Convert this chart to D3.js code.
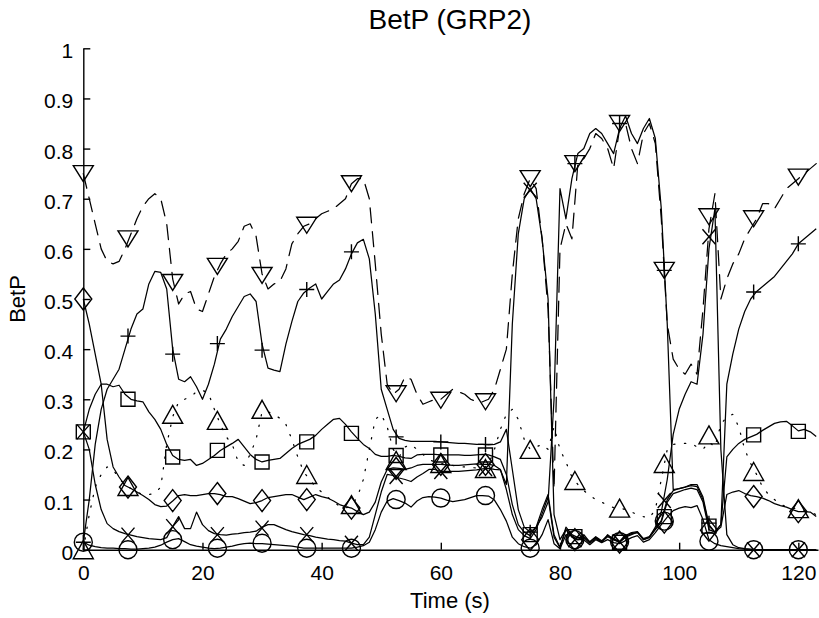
<!DOCTYPE html>
<html>
<head>
<meta charset="utf-8">
<script src="https://cdn.jsdelivr.net/npm/d3@7"></script>
<style>
  html, body { margin: 0; padding: 0; background: #fff; }
  svg { display: block; font-family: "Liberation Sans", Arial, Helvetica, sans-serif; }
</style>
</head>
<body>
<svg id="chart" width="819" height="618"></svg>
<script>
// Sample times (s) of the belief traces, and the times where markers are placed
const sampleTime = d3.range(0, 124);
const markerTime = [0, 7.5, 15, 22.5, 30, 37.5, 45, 52.5, 60, 67.5, 75, 82.5, 90, 97.5, 105, 112.5, 120];

const xTicks = [0, 20, 40, 60, 80, 100, 120];
const yTicks = [0, 0.1, 0.2, 0.3, 0.4, 0.5, 0.6, 0.7, 0.8, 0.9, 1];
const yTickLabels = ["0", "0.1", "0.2", "0.3", "0.4", "0.5", "0.6", "0.7", "0.8", "0.9", "1"];

// BetP trace, "v" markers (dashed)
const downLine = [
  0.75,0.70,0.65,0.60,0.575,0.57,0.575,0.60,0.63,0.66,
  0.685,0.70,0.71,0.70,0.65,0.54,0.49,0.51,0.515,0.48,
  0.475,0.51,0.545,0.57,0.59,0.60,0.615,0.645,0.65,0.625,
  0.55,0.52,0.53,0.535,0.56,0.61,0.63,0.645,0.65,0.66,
  0.67,0.675,0.68,0.69,0.70,0.73,0.74,0.74,0.70,0.57,
  0.43,0.33,0.31,0.32,0.345,0.34,0.31,0.29,0.295,0.30,
  0.30,0.31,0.32,0.315,0.31,0.30,0.295,0.295,0.30,0.32,
  0.36,0.40,0.55,0.66,0.71,0.74,0.72,0.62,0.48,0.12,
  0.60,0.65,0.62,0.77,0.78,0.80,0.83,0.82,0.80,0.76,
  0.84,0.85,0.80,0.77,0.83,0.85,0.81,0.66,0.45,0.38,
  0.36,0.35,0.37,0.35,0.48,0.64,0.71,0.50,0.54,0.57,
  0.59,0.62,0.64,0.66,0.69,0.69,0.68,0.70,0.72,0.73,
  0.74,0.75,0.76,0.77];
const downMarks = [0.75,0.62,0.533,0.565,0.547,0.647,0.73,0.311,0.298,0.295,0.74,0.77,0.85,0.557,0.664,0.66,0.743];

// BetP trace, "+" markers
const plusLine = [
  0.015,0.10,0.21,0.28,0.32,0.34,0.36,0.40,0.44,0.47,
  0.48,0.53,0.555,0.553,0.52,0.40,0.34,0.335,0.345,0.325,
  0.30,0.33,0.37,0.42,0.44,0.465,0.485,0.505,0.51,0.495,
  0.41,0.362,0.358,0.355,0.41,0.455,0.495,0.512,0.522,0.53,
  0.50,0.515,0.53,0.538,0.56,0.59,0.612,0.619,0.58,0.47,
  0.32,0.28,0.24,0.222,0.218,0.216,0.216,0.216,0.216,0.216,
  0.215,0.214,0.213,0.212,0.212,0.211,0.21,0.21,0.209,0.21,
  0.215,0.24,0.16,0.08,0.045,0.035,0.045,0.065,0.095,0.30,
  0.72,0.66,0.74,0.79,0.80,0.83,0.84,0.83,0.81,0.79,
  0.84,0.865,0.83,0.81,0.84,0.86,0.82,0.68,0.45,0.12,
  0.122,0.125,0.13,0.13,0.105,0.05,0.035,0.05,0.33,0.39,
  0.44,0.475,0.50,0.515,0.525,0.535,0.545,0.56,0.575,0.59,
  0.61,0.62,0.63,0.64];
const plusMarks = [0.015,0.426,0.39,0.411,0.398,0.519,0.594,0.225,0.215,0.21,0.035,0.77,0.85,0.557,0.053,0.514,0.61];

// BetP trace, "x" markers
const crossLine = [
  0.235,0.20,0.13,0.08,0.052,0.042,0.036,0.032,0.029,0.026,
  0.024,0.022,0.021,0.02,0.024,0.046,0.066,0.042,0.042,0.075,
  0.05,0.038,0.032,0.03,0.029,0.031,0.032,0.034,0.035,0.037,
  0.045,0.05,0.05,0.045,0.04,0.036,0.033,0.03,0.028,0.025,
  0.023,0.021,0.02,0.018,0.017,0.013,0.01,0.01,0.025,0.07,
  0.115,0.15,0.148,0.143,0.14,0.136,0.145,0.152,0.16,0.16,
  0.156,0.156,0.156,0.156,0.157,0.158,0.159,0.161,0.162,0.16,
  0.159,0.13,0.45,0.63,0.70,0.72,0.70,0.62,0.50,0.07,
  0.02,0.04,0.025,0.02,0.03,0.015,0.025,0.015,0.03,0.02,
  0.015,0.025,0.03,0.035,0.02,0.025,0.045,0.075,0.14,0.23,
  0.28,0.31,0.335,0.33,0.43,0.60,0.68,0.20,0.03,0.01,
  0.004,0.002,0.001,0,0,0,0,0,0,0,
  0,0,0,0];
const crossMarks = [0.235,0.029,0.046,0.03,0.043,0.03,0.013,0.146,0.156,0.162,0.717,0.02,0.016,0.098,0.624,0,0];

// BetP trace, "o" markers
const circleLine = [
  0.015,0.009,0.006,0.004,0.003,0.003,0.002,0.002,0.001,0.001,
  0.002,0.003,0.005,0.009,0.015,0.02,0.022,0.016,0.01,0.007,
  0.005,0.003,0.002,0.003,0.005,0.007,0.01,0.012,0.013,0.012,
  0.012,0.011,0.01,0.009,0.008,0.007,0.005,0.003,0.003,0.003,
  0.003,0.003,0.003,0.003,0.003,0.003,0.005,0.008,0.015,0.04,
  0.075,0.097,0.102,0.098,0.093,0.085,0.097,0.104,0.106,0.105,
  0.103,0.099,0.096,0.098,0.1,0.104,0.108,0.108,0.107,0.099,
  0.08,0.057,0.025,0.012,0.006,0.003,0.01,0.03,0.06,0.012,
  0.002,0.03,0.028,0.02,0.02,0.01,0.02,0.014,0.02,0.014,
  0.012,0.018,0.024,0.028,0.015,0.02,0.034,0.05,0.065,0.078,
  0.083,0.086,0.084,0.088,0.06,0.02,0.012,0.008,0.006,0.004,
  0.002,0.001,0,0,0,0,0,0,0,0,
  0,0,0,0];
const circleMarks = [0.015,0,0.02,0.003,0.013,0.003,0.003,0.1,0.103,0.108,0.003,0.02,0.016,0.057,0.017,0,0];

// BetP trace, square markers
const squareLine = [
  0.235,0.28,0.31,0.33,0.33,0.325,0.328,0.31,0.30,0.297,
  0.295,0.275,0.26,0.24,0.21,0.188,0.18,0.178,0.18,0.168,
  0.172,0.18,0.188,0.198,0.205,0.212,0.22,0.205,0.19,0.18,
  0.175,0.178,0.18,0.182,0.192,0.202,0.21,0.215,0.22,0.228,
  0.24,0.25,0.26,0.262,0.25,0.235,0.222,0.21,0.202,0.19,
  0.186,0.186,0.188,0.186,0.183,0.182,0.189,0.19,0.19,0.19,
  0.189,0.189,0.189,0.189,0.188,0.188,0.189,0.19,0.189,0.185,
  0.18,0.15,0.09,0.05,0.035,0.028,0.045,0.08,0.11,0.03,
  0.005,0.045,0.03,0.024,0.026,0.016,0.026,0.018,0.028,0.022,
  0.016,0.028,0.034,0.036,0.022,0.026,0.042,0.058,0.10,0.118,
  0.122,0.125,0.128,0.126,0.10,0.047,0.035,0.05,0.185,0.20,
  0.212,0.22,0.225,0.23,0.238,0.245,0.252,0.255,0.256,0.247,
  0.237,0.24,0.235,0.226];
const squareMarks = [0.235,0.30,0.185,0.198,0.175,0.215,0.232,0.188,0.189,0.189,0.03,0.026,0.015,0.066,0.047,0.229,0.236];

// BetP trace, diamond markers
const diamondLine = [
  0.50,0.45,0.39,0.33,0.22,0.165,0.145,0.128,0.122,0.115,
  0.108,0.10,0.09,0.086,0.087,0.097,0.108,0.11,0.108,0.108,
  0.11,0.112,0.112,0.11,0.106,0.106,0.102,0.097,0.092,0.094,
  0.098,0.104,0.106,0.108,0.11,0.11,0.105,0.10,0.105,0.11,
  0.106,0.103,0.097,0.09,0.086,0.083,0.076,0.07,0.075,0.095,
  0.135,0.16,0.163,0.162,0.16,0.163,0.168,0.17,0.17,0.17,
  0.17,0.169,0.168,0.168,0.169,0.17,0.171,0.17,0.17,0.168,
  0.16,0.12,0.07,0.04,0.028,0.022,0.04,0.072,0.105,0.025,
  0.004,0.04,0.026,0.02,0.024,0.013,0.022,0.016,0.026,0.02,
  0.015,0.026,0.032,0.034,0.02,0.024,0.04,0.055,0.095,0.112,
  0.116,0.12,0.123,0.12,0.095,0.04,0.035,0.045,0.11,0.115,
  0.118,0.112,0.108,0.106,0.103,0.098,0.092,0.088,0.085,0.08,
  0.076,0.076,0.075,0.066];
const diamondMarks = [0.5,0.125,0.098,0.112,0.098,0.1,0.083,0.162,0.17,0.17,0.02,0.02,0.015,0.055,0.039,0.106,0.076];

// BetP trace, "^" markers (dotted)
const upLine = [
  0.0,0.07,0.125,0.15,0.165,0.16,0.142,0.13,0.122,0.115,
  0.11,0.11,0.112,0.125,0.21,0.265,0.295,0.30,0.305,0.315,
  0.318,0.312,0.28,0.25,0.225,0.21,0.175,0.168,0.19,0.22,
  0.275,0.275,0.27,0.262,0.25,0.22,0.185,0.155,0.14,0.125,
  0.115,0.105,0.095,0.087,0.083,0.088,0.105,0.14,0.20,0.26,
  0.27,0.245,0.20,0.185,0.205,0.21,0.20,0.19,0.18,0.175,
  0.172,0.17,0.168,0.166,0.165,0.164,0.163,0.162,0.17,0.20,
  0.24,0.27,0.28,0.26,0.22,0.20,0.205,0.21,0.20,0.245,
  0.20,0.175,0.145,0.13,0.118,0.108,0.10,0.095,0.088,0.084,
  0.083,0.08,0.075,0.07,0.066,0.063,0.08,0.14,0.20,0.21,
  0.212,0.212,0.212,0.205,0.20,0.215,0.205,0.25,0.265,0.27,
  0.245,0.20,0.172,0.15,0.125,0.11,0.10,0.09,0.086,0.083,
  0.082,0.078,0.075,0.07];
const upMarks = [0.0,0.126,0.27,0.258,0.28,0.15,0.09,0.178,0.172,0.162,0.2,0.138,0.083,0.172,0.229,0.156,0.082];

// Marker glyphs (unfilled, MATLAB-like)
const glyphs = {
  plus:    "M-7.5,0H7.5M0,-7.5V7.5",
  cross:   "M-6.5,-7.5L6.5,7.5M6.5,-7.5L-6.5,7.5",
  circle:  "M9,0A9,9 0 1,1 -9,0A9,9 0 1,1 9,0Z",
  square:  "M-7,-7H7V7H-7Z",
  diamond: "M0,-11L8.5,0L0,11L-8.5,0Z",
  up:      "M0,-9L10,9L-10,9Z",
  down:    "M-10,-8L10,-8L0,8Z"
};

const series = [
  { values: downLine,    marks: downMarks,    glyph: "down",    dash: "15,9" },
  { values: plusLine,    marks: plusMarks,    glyph: "plus",    dash: null },
  { values: crossLine,   marks: crossMarks,   glyph: "cross",   dash: null },
  { values: circleLine,  marks: circleMarks,  glyph: "circle",  dash: null },
  { values: squareLine,  marks: squareMarks,  glyph: "square",  dash: null },
  { values: diamondLine, marks: diamondMarks, glyph: "diamond", dash: null },
  { values: upLine,      marks: upMarks,      glyph: "up",      dash: "1.3,9.5" }
];

const svg = d3.select("#chart");
const x = d3.scaleLinear().domain([0, 123.3]).range([83.3, 818]);
const y = d3.scaleLinear().domain([0, 1]).range([549.7, 48.3]);

// Traces
const line = d3.line().x((d, i) => x(sampleTime[i])).y(d => y(d));
const plot = svg.append("g");
series.forEach(s => {
  plot.append("path")
    .datum(s.values)
    .attr("d", line)
    .attr("fill", "none")
    .attr("stroke", "#000")
    .attr("stroke-width", 1.25)
    .attr("stroke-linejoin", "round")
    .attr("stroke-linecap", s.dash ? "round" : "butt")
    .attr("stroke-dasharray", s.dash);
});

// Markers every 7.5 s
series.forEach(s => {
  plot.append("g").selectAll("path")
    .data(s.marks)
    .join("path")
    .attr("transform", (d, i) => `translate(${x(markerTime[i])},${y(d)})`)
    .attr("d", glyphs[s.glyph])
    .attr("fill", "none")
    .attr("stroke", "#000")
    .attr("stroke-width", 1.4);
});

// Axes with inward ticks
const xAxis = svg.append("g")
  .attr("transform", `translate(0,${y(0)})`)
  .call(d3.axisBottom(x).tickValues(xTicks).tickFormat(d3.format("d"))
    .tickSizeInner(-7).tickSizeOuter(0).tickPadding(15));
const yAxis = svg.append("g")
  .attr("transform", `translate(${x(0)},0)`)
  .call(d3.axisLeft(y).tickValues(yTicks).tickFormat((d, i) => yTickLabels[i])
    .tickSizeInner(-7).tickSizeOuter(0).tickPadding(10));

[xAxis, yAxis].forEach(g => {
  g.selectAll("path, line").attr("stroke", "#000").attr("stroke-width", 1.4);
  g.selectAll("text").attr("font-size", 21).attr("fill", "#000")
    .attr("font-family", "'Liberation Sans', Arial, sans-serif");
});
yAxis.selectAll("text").attr("dy", "0.45em");

// Titles
svg.append("text")
  .attr("x", 450).attr("y", 29)
  .attr("text-anchor", "middle")
  .attr("font-size", 28)
  .text("BetP (GRP2)");

svg.append("text")
  .attr("x", 450).attr("y", 608)
  .attr("text-anchor", "middle")
  .attr("font-size", 22)
  .text("Time (s)");

svg.append("text")
  .attr("transform", "translate(25,299) rotate(-90)")
  .attr("text-anchor", "middle")
  .attr("font-size", 22)
  .text("BetP");
</script>
</body>
</html>
